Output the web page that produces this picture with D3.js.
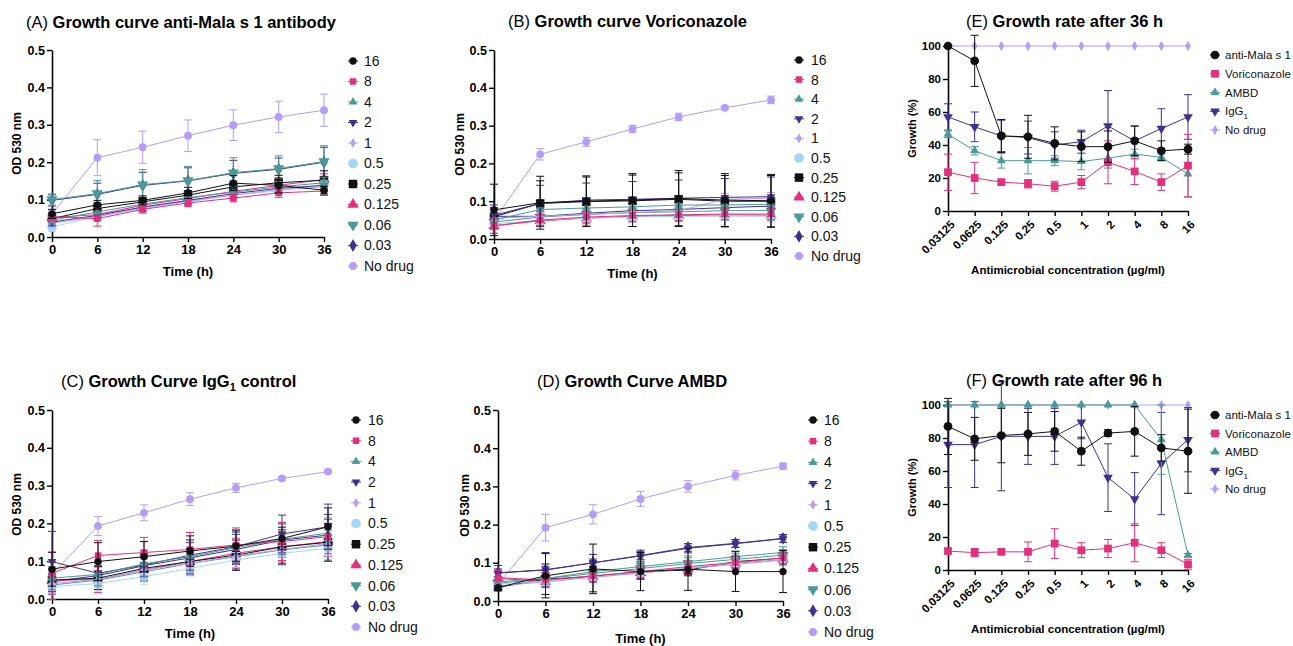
<!DOCTYPE html>
<html>
<head>
<meta charset="utf-8">
<title>Growth curves and growth rates</title>
<script src="https://d3js.org/d3.v7.min.js"></script>
<style>
  body { margin: 0; background: #fff; }
  svg { font-family: "Liberation Sans", Arial, Helvetica, sans-serif; }
  .tick text { font-weight: bold; }
</style>
</head>
<body>
<div id="chart"></div>
<script>
// ---- data ----
const timeH = [0, 6, 12, 18, 24, 30, 36];
const concLabels = ["16", "8", "4", "2", "1", "0.5", "0.25", "0.125", "0.06", "0.03", "No drug"];
const rateCats = ["0.03125", "0.0625", "0.125", "0.25", "0.5", "1", "2", "4", "8", "16"];
const rateSeries = ["anti-Mala s 1", "Voriconazole", "AMBD", "IgG1", "No drug"];

// (A) anti-Mala s 1 antibody, OD 530 nm, one row per concentration
const curveA = [
  [0.062, 0.086, 0.098, 0.118, 0.144, 0.138, 0.125],
  [0.054, 0.049, 0.074, 0.091, 0.104, 0.118, 0.123],
  [0.045, 0.067, 0.088, 0.105, 0.120, 0.134, 0.145],
  [0.040, 0.058, 0.080, 0.098, 0.116, 0.130, 0.138],
  [0.037, 0.054, 0.079, 0.096, 0.112, 0.127, 0.134],
  [0.027, 0.055, 0.076, 0.094, 0.112, 0.123, 0.140],
  [0.049, 0.076, 0.094, 0.112, 0.134, 0.145, 0.152],
  [0.052, 0.060, 0.085, 0.103, 0.122, 0.138, 0.154],
  [0.100, 0.116, 0.140, 0.151, 0.172, 0.183, 0.202],
  [0.098, 0.114, 0.138, 0.150, 0.170, 0.181, 0.200],
  [0.062, 0.212, 0.240, 0.271, 0.299, 0.321, 0.339]
];
const curveAErr = [
  [0.012, 0.012, 0.012, 0.015, 0.020, 0.020, 0.010],
  [0.010, 0.020, 0.010, 0.010, 0.010, 0.012, 0.012],
  [0.010, 0.012, 0.012, 0.015, 0.015, 0.015, 0.015],
  [0.010, 0.010, 0.010, 0.010, 0.012, 0.012, 0.015],
  [0.010, 0.010, 0.010, 0.010, 0.010, 0.010, 0.010],
  [0.012, 0.010, 0.010, 0.010, 0.012, 0.012, 0.012],
  [0.015, 0.015, 0.012, 0.012, 0.015, 0.020, 0.025],
  [0.010, 0.012, 0.010, 0.012, 0.012, 0.015, 0.015],
  [0.015, 0.035, 0.040, 0.038, 0.040, 0.034, 0.042],
  [0.015, 0.030, 0.035, 0.035, 0.035, 0.030, 0.040],
  [0.010, 0.048, 0.043, 0.042, 0.041, 0.042, 0.043]
];

// (B) Voriconazole
const curveB = [
  [0.077, 0.096, 0.100, 0.103, 0.107, 0.103, 0.101],
  [0.035, 0.050, 0.058, 0.062, 0.064, 0.066, 0.066],
  [0.050, 0.078, 0.082, 0.085, 0.090, 0.090, 0.092],
  [0.063, 0.094, 0.103, 0.105, 0.108, 0.110, 0.112],
  [0.055, 0.060, 0.065, 0.070, 0.075, 0.105, 0.108],
  [0.040, 0.050, 0.055, 0.058, 0.060, 0.060, 0.060],
  [0.059, 0.094, 0.099, 0.101, 0.105, 0.100, 0.100],
  [0.035, 0.048, 0.055, 0.060, 0.062, 0.064, 0.063],
  [0.045, 0.058, 0.065, 0.070, 0.072, 0.075, 0.075],
  [0.060, 0.060, 0.068, 0.075, 0.078, 0.083, 0.087],
  [0.050, 0.224, 0.257, 0.291, 0.323, 0.347, 0.368]
];
const curveBErr = [
  [0.068, 0.070, 0.067, 0.070, 0.074, 0.070, 0.070],
  [0.020, 0.015, 0.015, 0.015, 0.015, 0.015, 0.015],
  [0.020, 0.015, 0.015, 0.015, 0.015, 0.015, 0.015],
  [0.020, 0.048, 0.045, 0.047, 0.048, 0.050, 0.052],
  [0.020, 0.010, 0.010, 0.010, 0.010, 0.015, 0.015],
  [0.010, 0.010, 0.010, 0.010, 0.010, 0.010, 0.010],
  [0.020, 0.060, 0.065, 0.068, 0.070, 0.068, 0.068],
  [0.020, 0.015, 0.015, 0.015, 0.015, 0.015, 0.015],
  [0.020, 0.015, 0.015, 0.015, 0.015, 0.015, 0.015],
  [0.030, 0.020, 0.020, 0.020, 0.020, 0.020, 0.020],
  [0.010, 0.015, 0.012, 0.010, 0.010, 0.005, 0.010]
];

// (C) IgG1 control
const curveC = [
  [0.079, 0.099, 0.112, 0.127, 0.140, 0.160, 0.191],
  [0.068, 0.115, 0.123, 0.131, 0.143, 0.152, 0.165],
  [0.055, 0.065, 0.093, 0.112, 0.136, 0.158, 0.174],
  [0.099, 0.068, 0.090, 0.116, 0.138, 0.172, 0.191],
  [0.041, 0.052, 0.077, 0.094, 0.114, 0.131, 0.147],
  [0.033, 0.041, 0.059, 0.081, 0.103, 0.121, 0.134],
  [0.050, 0.055, 0.081, 0.099, 0.116, 0.138, 0.150],
  [0.049, 0.052, 0.077, 0.099, 0.121, 0.138, 0.152],
  [0.037, 0.050, 0.072, 0.094, 0.112, 0.130, 0.143],
  [0.046, 0.062, 0.088, 0.109, 0.131, 0.156, 0.169],
  [0.065, 0.193, 0.228, 0.264, 0.294, 0.319, 0.337]
];
const curveCErr = [
  [0.045, 0.050, 0.040, 0.040, 0.040, 0.030, 0.050],
  [0.055, 0.040, 0.040, 0.045, 0.045, 0.050, 0.045],
  [0.030, 0.030, 0.035, 0.045, 0.040, 0.040, 0.040],
  [0.080, 0.020, 0.030, 0.040, 0.045, 0.050, 0.060],
  [0.020, 0.020, 0.030, 0.030, 0.030, 0.030, 0.035],
  [0.020, 0.020, 0.020, 0.020, 0.020, 0.020, 0.020],
  [0.030, 0.030, 0.030, 0.035, 0.040, 0.045, 0.050],
  [0.050, 0.035, 0.030, 0.035, 0.040, 0.040, 0.040],
  [0.025, 0.025, 0.025, 0.030, 0.035, 0.040, 0.040],
  [0.020, 0.025, 0.030, 0.040, 0.040, 0.045, 0.055],
  [0.010, 0.025, 0.021, 0.017, 0.012, 0.005, 0.004]
];

// (D) AMBD
const curveD = [
  [0.035, 0.066, 0.084, 0.077, 0.083, 0.077, 0.077],
  [0.061, 0.055, 0.066, 0.077, 0.090, 0.101, 0.113],
  [0.050, 0.059, 0.077, 0.090, 0.103, 0.116, 0.127],
  [0.073, 0.082, 0.100, 0.118, 0.138, 0.150, 0.163],
  [0.040, 0.050, 0.062, 0.073, 0.085, 0.096, 0.107],
  [0.045, 0.052, 0.063, 0.075, 0.087, 0.100, 0.110],
  [0.036, 0.057, 0.064, 0.077, 0.081, 0.103, 0.112],
  [0.059, 0.051, 0.064, 0.074, 0.085, 0.099, 0.109],
  [0.046, 0.059, 0.072, 0.085, 0.098, 0.109, 0.120],
  [0.074, 0.081, 0.100, 0.119, 0.140, 0.151, 0.164],
  [0.045, 0.192, 0.227, 0.267, 0.300, 0.329, 0.353]
];
const curveDErr = [
  [0.005, 0.058, 0.065, 0.050, 0.055, 0.052, 0.055],
  [0.020, 0.020, 0.015, 0.015, 0.015, 0.015, 0.015],
  [0.010, 0.015, 0.015, 0.015, 0.015, 0.015, 0.015],
  [0.020, 0.045, 0.022, 0.015, 0.012, 0.010, 0.010],
  [0.010, 0.010, 0.010, 0.010, 0.010, 0.010, 0.010],
  [0.010, 0.010, 0.010, 0.010, 0.010, 0.010, 0.010],
  [0.005, 0.040, 0.040, 0.020, 0.015, 0.015, 0.015],
  [0.020, 0.015, 0.015, 0.015, 0.015, 0.015, 0.015],
  [0.010, 0.015, 0.015, 0.015, 0.015, 0.015, 0.015],
  [0.010, 0.010, 0.010, 0.010, 0.010, 0.010, 0.010],
  [0.010, 0.035, 0.025, 0.020, 0.015, 0.012, 0.008]
];

// (E) growth (%) after 36 h, rows = rateSeries
const rate36 = [
  [100, 91, 45.5, 45, 41, 39, 39, 42.5, 36.5, 37.5],
  [23.5, 20, 17.5, 16.5, 15, 17.5, 29.5, 24, 17.5, 27.5],
  [46.5, 36.5, 30.5, 30.5, 30.5, 30, 32, 34.5, 32.5, 22.5],
  [57, 51, 45.5, 44.5, 40, 42, 51.5, 42.5, 50, 57],
  [100, 100, 100, 100, 100, 100, 100, 100, 100, 100]
];
const rate36Err = [
  [0, 15.5, 10, 13, 10, 9, 9.5, 9, 6, 3],
  [11, 9.5, 1.5, 2.5, 3, 4, 13, 8, 5, 19],
  [2, 2.5, 4.5, 8, 3, 5, 6, 3, 2, 14],
  [8, 9, 9.5, 10, 8, 7, 21.5, 9, 12, 13.5],
  [0, 0, 0, 0, 0, 0, 0, 0, 0, 0]
];

// (F) growth (%) after 96 h
const rate96 = [
  [87, 79.5, 81.5, 82.5, 84, 72, 83, 84, 74, 72],
  [11.5, 10.5, 11, 11, 16, 12, 13, 16.5, 12, 3.5],
  [100, 100, 100, 100, 100, 100, 100, 100, 79, 9],
  [76, 76, 81, 81, 81, 89.5, 56, 43, 64.5, 79],
  [100, 100, 100, 100, 100, 100, 100, 100, 100, 100]
];
const rate96Err = [
  [17, 13, 16.5, 13, 12, 8.5, 2, 15, 8, 25.5],
  [1.5, 2.5, 1.5, 6, 9, 4.5, 5.5, 11.5, 4.5, 3],
  [0, 0, 0, 0, 0, 0, 0, 0, 21, 1],
  [26, 26, 33, 17, 17, 10, 20.5, 16, 31, 19.5],
  [0, 0, 0, 0, 0, 0, 0, 0, 0, 0]
];

// ---- styles ----
const BLACK = "#111111", PINK = "#e3307c", TEAL = "#4a9b96", DPURP = "#40308f",
      LPURP = "#b59cf7", LBLUE = "#a5d6f3";
const tri = d3.symbolTriangle;
// [colour, symbol, size, rotate]
const concStyle = [
  [BLACK, d3.symbolCircle, 42, 0],
  [PINK, d3.symbolSquare, 42, 0],
  [TEAL, tri, 32, 0],
  [DPURP, tri, 32, 180],
  [LPURP, d3.symbolDiamond, 28, 0],
  [LBLUE, d3.symbolCircle, 72, 0],
  [BLACK, d3.symbolSquare, 72, 0],
  [PINK, tri, 55, 0],
  [TEAL, tri, 55, 180],
  [DPURP, d3.symbolDiamond, 48, 0],
  [LPURP, d3.symbolCircle, 48, 0]
];
const rateStyle = [
  [BLACK, d3.symbolCircle, 60, 0],
  [PINK, d3.symbolSquare, 60, 0],
  [TEAL, tri, 35, 0],
  [DPURP, tri, 40, 180],
  [LPURP, d3.symbolDiamond, 28, 0]
];

const svg = d3.select("#chart").append("svg")
  .attr("width", 1293).attr("height", 646)
  .style("background", "#fff");

function addTitle(x, y, letter, parts) {
  const t = svg.append("text").attr("x", x).attr("y", y).style("font-size", "16.5px").attr("fill", "#000");
  t.append("tspan").text(letter + " ");
  parts.forEach(p => {
    const s = t.append("tspan").style("font-weight", "bold").text(p.t);
    if (p.sub) s.attr("dy", 4).style("font-size", "11px");
    if (p.after) s.attr("dy", -4);
  });
}

function drawMarker(g, st, x, y) {
  g.append("path")
    .attr("d", d3.symbol().type(st[1]).size(st[2])())
    .attr("transform", `translate(${x},${y}) rotate(${st[3]})`)
    .attr("fill", st[0]);
}

function drawSeries(g, xs, ys, vals, errs, st) {
  const line = d3.line().x((d, i) => xs(i)).y(d => ys(d));
  g.append("path").datum(vals).attr("d", line)
    .attr("fill", "none").attr("stroke", st[0]).attr("stroke-width", 1);
  vals.forEach((v, i) => {
    const e = errs[i];
    if (e > 0) {
      const x = xs(i), y0 = ys(v - e), y1 = ys(v + e);
      g.append("line").attr("x1", x).attr("x2", x).attr("y1", y0).attr("y2", y1)
        .attr("stroke", st[0]).attr("stroke-width", 1);
      [y0, y1].forEach(yy => g.append("line").attr("x1", x - 4).attr("x2", x + 4)
        .attr("y1", yy).attr("y2", yy).attr("stroke", st[0]).attr("stroke-width", 1));
    }
  });
  vals.forEach((v, i) => drawMarker(g, st, xs(i), ys(v)));
}

function legend(items, styles, mx, tx, y0, dy, fs) {
  const g = svg.append("g");
  items.forEach((lab, i) => {
    const y = y0 + i * dy;
    g.append("line").attr("x1", mx - 5).attr("x2", mx + 5).attr("y1", y).attr("y2", y)
      .attr("stroke", styles[i][0]).attr("stroke-width", 1);
    drawMarker(g, styles[i], mx, y);
    const t = g.append("text").attr("x", tx).attr("y", y).attr("dy", "0.35em")
      .style("font-size", fs + "px").attr("fill", "#111");
    if (lab === "IgG1") {
      t.append("tspan").text("IgG");
      t.append("tspan").text("1").attr("dy", 4).style("font-size", (fs - 3.5) + "px");
    } else t.text(lab);
  });
}

function styleAxis(ax, fs) {
  ax.select(".domain").attr("stroke", "#000").attr("stroke-width", 1.6);
  ax.selectAll(".tick line").attr("stroke", "#000").attr("stroke-width", 1.4);
  ax.selectAll(".tick text").style("font-size", fs + "px").attr("fill", "#000");
}

function curvePanel(p, means, errs) {
  const x = d3.scaleLinear().domain([0, 36]).range([p.x0, p.x1]);
  const y = d3.scaleLinear().domain([0, 0.5]).range([p.yb, p.yt]);
  const ax = svg.append("g").attr("transform", `translate(0,${p.yb})`)
    .call(d3.axisBottom(x).tickValues(timeH).tickSize(5).tickSizeOuter(0).tickPadding(3));
  styleAxis(ax, 13);
  const ay = svg.append("g").attr("transform", `translate(${p.x0},0)`)
    .call(d3.axisLeft(y).ticks(5).tickFormat(d3.format(".1f")).tickSize(5).tickSizeOuter(0).tickPadding(2));
  styleAxis(ay, 12.5);
  svg.append("text").attr("transform", `translate(${p.yl},${(p.yt + p.yb) / 2}) rotate(-90)`)
    .attr("text-anchor", "middle").style("font-size", "12px").style("font-weight", "bold").text("OD 530 nm");
  svg.append("text").attr("x", (p.x0 + p.x1) / 2).attr("y", p.xl)
    .attr("text-anchor", "middle").style("font-size", "13px").style("font-weight", "bold").text("Time (h)");
  const g = svg.append("g");
  for (let s = means.length - 1; s >= 0; s--) {
    drawSeries(g, i => x(timeH[i]), y, means[s], errs[s], concStyle[s]);
  }
  legend(concLabels, concStyle, p.lm, p.lt, p.ly, p.ld, 14);
}

function ratePanel(p, means, errs) {
  const x = d3.scalePoint().domain(rateCats).range([p.x0, p.x1]);
  const y = d3.scaleLinear().domain([0, 100]).range([p.yb, p.yt]);
  const ax = svg.append("g").attr("transform", `translate(0,${p.yb})`)
    .call(d3.axisBottom(x).tickSize(5).tickSizeOuter(0));
  styleAxis(ax, 11.5);
  ax.selectAll(".tick text").attr("text-anchor", "end").attr("y", 0).attr("dy", 0)
    .attr("transform", "translate(5,12) rotate(-45)").attr("dominant-baseline", "middle");
  const ay = svg.append("g").attr("transform", `translate(${p.x0},0)`)
    .call(d3.axisLeft(y).tickValues([0, 20, 40, 60, 80, 100]).tickSize(5).tickSizeOuter(0).tickPadding(2));
  styleAxis(ay, 11.5);
  svg.append("text").attr("transform", `translate(${p.yl},${(p.yt + p.yb) / 2}) rotate(-90)`)
    .attr("text-anchor", "middle").style("font-size", "11px").style("font-weight", "bold").text("Growth (%)");
  svg.append("text").attr("x", 1068).attr("y", p.xl)
    .attr("text-anchor", "middle").style("font-size", "11.5px").style("font-weight", "bold")
    .text("Antimicrobial concentration (µg/ml)");
  const g = svg.append("g");
  [4, 3, 2, 1, 0].forEach(s => {
    drawSeries(g, i => x(rateCats[i]), y, means[s], errs[s], rateStyle[s]);
  });
  legend(rateSeries, rateStyle, p.lm, p.lt, p.ly, p.ld, 11.5);
}

// ---- panels ----
addTitle(26, 28, "(A)", [{ t: "Growth curve anti-Mala s 1 antibody" }]);
curvePanel({ x0: 52, x1: 324, yt: 50, yb: 237, yl: 21, xl: 276, lm: 353, lt: 364, ly: 61, ld: 20.5 }, curveA, curveAErr);

addTitle(508, 27, "(B)", [{ t: "Growth curve Voriconazole" }]);
curvePanel({ x0: 494, x1: 771, yt: 50, yb: 239, yl: 464, xl: 278, lm: 799, lt: 811, ly: 60, ld: 19.6 }, curveB, curveBErr);

addTitle(61, 387, "(C)", [{ t: "Growth Curve IgG" }, { t: "1", sub: true }, { t: " control", after: true }]);
curvePanel({ x0: 52, x1: 328, yt: 410, yb: 599, yl: 21, xl: 638, lm: 356, lt: 368, ly: 420, ld: 20.7 }, curveC, curveCErr);

addTitle(537, 387, "(D)", [{ t: "Growth Curve AMBD" }]);
curvePanel({ x0: 498, x1: 783, yt: 410, yb: 601, yl: 469, xl: 643, lm: 813, lt: 824, ly: 420, ld: 21.2 }, curveD, curveDErr);

addTitle(966, 27, "(E)", [{ t: "Growth rate after 36 h" }]);
ratePanel({ x0: 948, x1: 1188, yt: 46, yb: 211, yl: 916, xl: 274, lm: 1215, lt: 1225, ly: 55, ld: 18.75 }, rate36, rate36Err);

addTitle(966, 386, "(F)", [{ t: "Growth rate after 96 h" }]);
ratePanel({ x0: 948, x1: 1188, yt: 405, yb: 570, yl: 916, xl: 633, lm: 1215, lt: 1225, ly: 415, ld: 18.5 }, rate96, rate96Err);
</script>
</body>
</html>
